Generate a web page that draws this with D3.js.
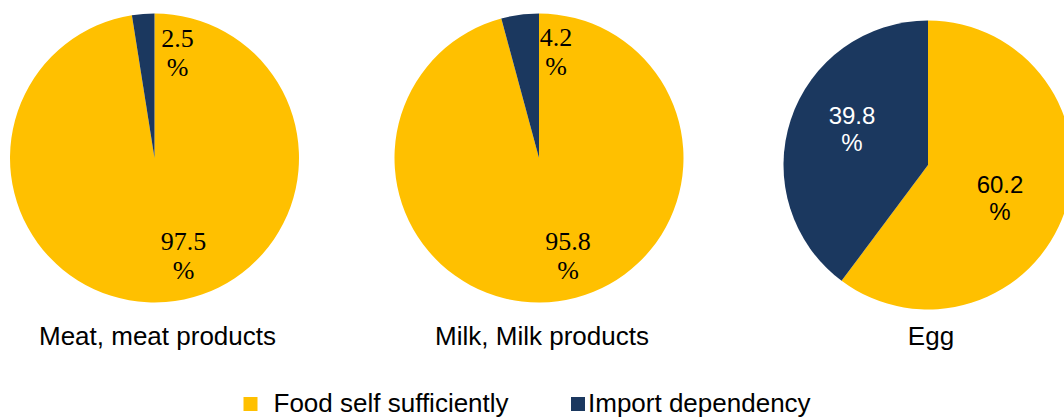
<!DOCTYPE html>
<html>
<head>
<meta charset="utf-8">
<script src="https://cdn.jsdelivr.net/npm/d3@7"></script>
<style>
  html, body { margin: 0; padding: 0; background: #fff; }
  svg { display: block; }
</style>
</head>
<body>
<svg id="chart" width="1064" height="418"></svg>
<script>
// ---- data ----
const categories = ["Meat, meat products", "Milk, Milk products", "Egg"];
const seriesNames = ["Food self sufficiently", "Import dependency"];
const selfSufficiency = [97.5, 95.8, 60.2];
const importDependency = [2.5, 4.2, 39.8];

// ---- layout / style ----
const W = 1064, H = 418;
const colors = ["#FFC000", "#1B385F"];
const radius = 144.5;
const pieCenterX = d3.scaleOrdinal().domain(categories).range([154.5, 539, 928]);
const pieCenterY = [158, 158, 165];
// label styles per pie: serif (LaTeX-like) for the first two, sans for the last
const labelFont = ["Liberation Serif", "Liberation Serif", "Liberation Sans"];
const labelSize = [26, 26, 24];
const labelLineGap = [29, 29, 27];
const labelColors = [["#000", "#000"], ["#000", "#000"], ["#000", "#fff"]];
// label anchor offsets from pie centre [self, import]
const labelOffsets = [
  [[29, 92], [23, -111]],
  [[29, 92], [17, -112]],
  [[72, 28], [-76, -41]]
];

const svg = d3.select("#chart");
const pie = d3.pie().sort(null).value(d => d.value);
const arc = d3.arc().innerRadius(0).outerRadius(radius);

categories.forEach((cat, i) => {
  const cx = pieCenterX(cat), cy = pieCenterY[i];
  const data = [
    { name: seriesNames[0], value: selfSufficiency[i] },
    { name: seriesNames[1], value: importDependency[i] }
  ];
  const g = svg.append("g").attr("transform", `translate(${cx},${cy})`);
  const arcs = pie(data);
  g.selectAll("path").data(arcs).enter().append("path")
    .attr("d", arc)
    .attr("fill", (d, j) => colors[j]);

  arcs.forEach((a, j) => {
    const [ox, oy] = labelOffsets[i][j];
    const t = g.append("text")
      .attr("text-anchor", "middle")
      .attr("font-family", labelFont[i])
      .attr("font-size", labelSize[i])
      .attr("fill", labelColors[i][j]);
    t.append("tspan").attr("x", ox).attr("y", oy).text(a.data.value.toFixed(1));
    t.append("tspan").attr("x", ox).attr("y", oy + labelLineGap[i]).text("%");
  });

  svg.append("text")
    .attr("x", cx + 3)
    .attr("y", 345)
    .attr("text-anchor", "middle")
    .attr("font-family", "Liberation Sans, Arial, sans-serif")
    .attr("font-size", 26)
    .attr("fill", "#000")
    .text(cat);
});

// legend
const legendX = [243.5, 571];
const legend = svg.append("g");
seriesNames.forEach((name, j) => {
  legend.append("rect")
    .attr("x", legendX[j]).attr("y", 397)
    .attr("width", 14).attr("height", 14)
    .attr("fill", colors[j]);
  legend.append("text")
    .attr("x", legendX[j] + (j === 0 ? 30 : 17))
    .attr("y", 412)
    .attr("font-family", "Liberation Sans, Arial, sans-serif")
    .attr("font-size", 26)
    .attr("fill", "#000")
    .text(name);
});
</script>
</body>
</html>
